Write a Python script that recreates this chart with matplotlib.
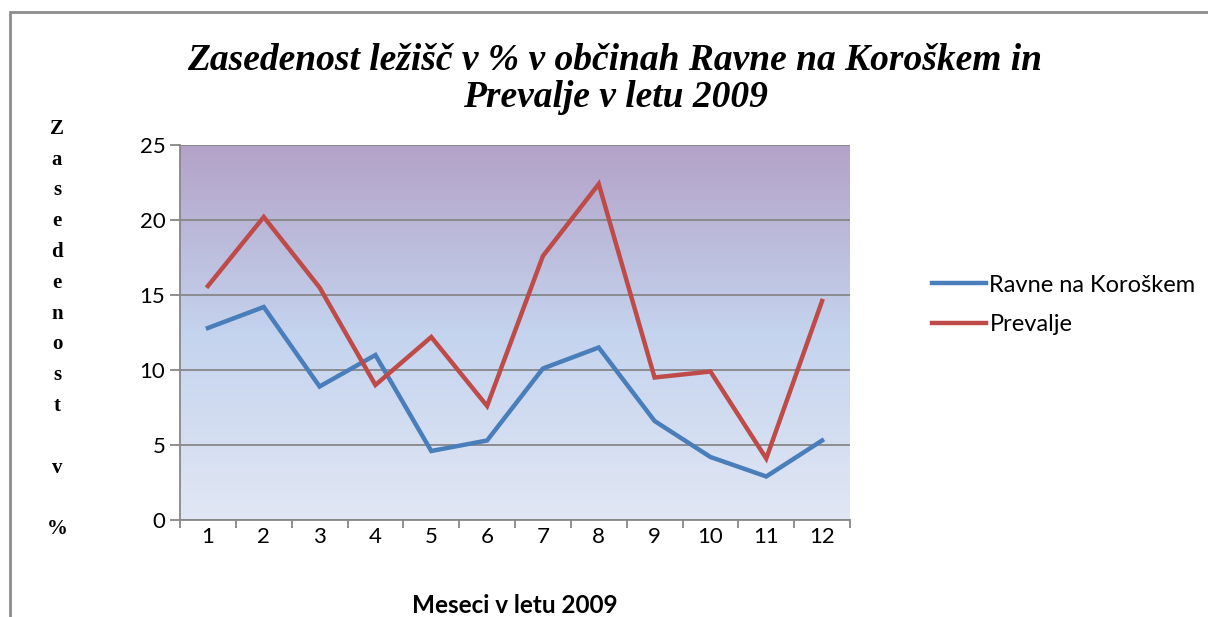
import numpy as np
import matplotlib.pyplot as plt
from matplotlib.colors import LinearSegmentedColormap
from matplotlib.patches import Rectangle

meseci = ['1', '2', '3', '4', '5', '6', '7', '8', '9', '10', '11', '12']
ravne = [12.8, 14.2, 8.9, 11.0, 4.6, 5.3, 10.1, 11.5, 6.6, 4.2, 2.9, 5.3]
prevalje = [15.6, 20.2, 15.5, 9.0, 12.2, 7.6, 17.6, 22.4, 9.5, 9.9, 4.1, 14.6]

sans = ['Lato', 'DejaVu Sans']
serif = ['Liberation Serif', 'DejaVu Serif']

fig = plt.figure(figsize=(12.08, 6.17), dpi=100)

# outer chart border (only top and left are visible in the original)
fig.patches.append(Rectangle((10 / 1208, -0.05), 1.2, (617 - 12) / 617 + 0.05,
                             transform=fig.transFigure, fill=False,
                             edgecolor='#8c8c8c', linewidth=2))

ax = fig.add_axes([180 / 1208, 1 - 520 / 617, 670 / 1208, 375 / 617])

x = np.arange(len(meseci))
ax.set_xlim(-0.5, len(meseci) - 0.5)
ax.set_ylim(0, 25)

# gradient background
cmap = LinearSegmentedColormap.from_list('bg', ['#e1e7f4', '#c4d3ee', '#b3a2c8'])
grad = np.linspace(0, 1, 256).reshape(-1, 1)
ax.imshow(grad, cmap=cmap, aspect='auto', origin='lower',
          extent=(-0.5, len(meseci) - 0.5, 0, 25), zorder=0)

ax.set_yticks([0, 5, 10, 15, 20, 25])
ax.yaxis.grid(True, color='#878787', linewidth=1.3, zorder=1)
ax.set_axisbelow(False)

ax.plot(x, ravne, color='#4a7ebb', linewidth=3.2, label='Ravne na Koroškem',
        solid_joinstyle='miter', zorder=3)
ax.plot(x, prevalje, color='#be4b48', linewidth=3.2, label='Prevalje',
        solid_joinstyle='miter', zorder=3)

# category ticks sit between categories, labels in the middle
ax.set_xticks(np.arange(-0.5, len(meseci), 1.0))
ax.set_xticklabels([])
ax.set_xticks(x, minor=True)
ax.set_xticklabels(meseci, minor=True, fontsize=16, family=sans)
ax.tick_params(axis='x', which='minor', length=0, pad=5)
ax.tick_params(axis='x', which='major', length=6, color='#878787', width=1.3)
ax.tick_params(axis='y', length=7, color='#878787', width=1.3, pad=3.5,
               labelsize=16)
for lab in ax.get_yticklabels():
    lab.set_family(sans)

for s in ['top', 'right']:
    ax.spines[s].set_visible(False)
for s in ['left', 'bottom']:
    ax.spines[s].set_color('#878787')
    ax.spines[s].set_linewidth(1.3)

ax.set_xlabel('Meseci v letu 2009', fontsize=17.5, fontweight='bold',
              family=sans, labelpad=34)

fig.text(615 / 1208, 1 - 79 / 617,
         'Zasedenost ležišč v % v občinah Ravne na Koroškem in\nPrevalje v letu 2009',
         ha='center', va='center', fontsize=27, fontweight='bold',
         style='italic', family=serif, linespacing=1.1)

ylab = 'Zasedenost v %'
fig.text(57 / 1208, 1 - 329 / 617, '\n'.join(ylab), ha='center', va='center',
         fontsize=15, fontweight='bold', family=serif, linespacing=1.72)

ax.legend(loc='center left', bbox_to_anchor=(1.09, 0.574), frameon=False,
          prop={'family': sans, 'size': 17}, handlelength=2.3,
          handletextpad=0.15, labelspacing=0.78)

fig.savefig('out.png', dpi=100)
